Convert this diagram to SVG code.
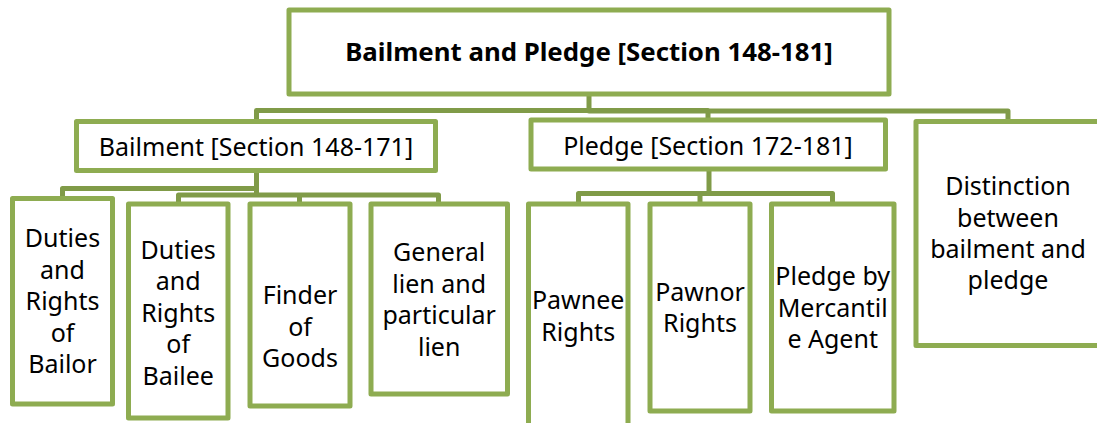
<svg xmlns="http://www.w3.org/2000/svg" width="1097" height="423" viewBox="0 0 1097 423">
<style>
.box{fill:#fff;stroke:#8eac51;stroke-width:5;stroke-linejoin:round}
.conn{fill:none;stroke:#809b48;stroke-width:5;stroke-linejoin:round}
text{font-family:"Noto Sans","Open Sans","Liberation Sans",sans-serif;font-size:25px;fill:#000;text-anchor:middle}
.title{font-weight:bold;font-size:25.8px}
</style>
<rect width="1097" height="423" fill="#fff"/>
<g id="connectors">
<path class="conn" d="M589,94 V110.5 M256.5,121.5 V110.5 H708 V120 M589,110.5 V111 H1008 V121.5"/>
<path class="conn" d="M256.5,170.5 V195 M62.5,198.5 V188.5 H256.5 M178.5,204 V195 H438.5 V204 M299.5,195 V204"/>
<path class="conn" d="M709,169 V193.5 M578.5,204 V193.5 H832.5 V204 M700,193.5 V204"/>
</g>
<g id="root"><rect class="box" x="289" y="10" width="600" height="84"/><text class="title" x="589" y="61">Bailment and Pledge [Section 148-181]</text></g>
<g id="bailment"><rect class="box" x="76.5" y="121.5" width="359" height="49"/><text x="256" y="156">Bailment [Section 148-171]</text></g>
<g id="pledge"><rect class="box" x="531" y="120" width="354.5" height="49"/><text x="708" y="155">Pledge [Section 172-181]</text></g>
<g id="distinction"><rect class="box" x="916" y="121.5" width="184" height="224"/><text x="1008" y="195">Distinction</text><text x="1008" y="226.5">between</text><text x="1008" y="258">bailment and</text><text x="1008" y="289">pledge</text></g>
<g id="bailor"><rect class="box" x="12.5" y="198.5" width="100" height="205.5"/><text x="62.5" y="247">Duties</text><text x="62.5" y="278.5">and</text><text x="62.5" y="310">Rights</text><text x="62.5" y="341.5">of</text><text x="62.5" y="373">Bailor</text></g>
<g id="bailee"><rect class="box" x="128.5" y="204" width="99.5" height="214"/><text x="178.2" y="258.5">Duties</text><text x="178.2" y="290">and</text><text x="178.2" y="321.5">Rights</text><text x="178.2" y="353">of</text><text x="178.2" y="384.5">Bailee</text></g>
<g id="finder"><rect class="box" x="250" y="204" width="100" height="202"/><text x="300" y="304">Finder</text><text x="300" y="335.5">of</text><text x="300" y="367">Goods</text></g>
<g id="lien"><rect class="box" x="371" y="204" width="136.5" height="190"/><text x="439.2" y="261">General</text><text x="439.2" y="292.5">lien and</text><text x="439.2" y="324">particular</text><text x="439.2" y="355.5">lien</text></g>
<g id="pawnee"><rect class="box" x="528.5" y="204" width="99.5" height="240"/><text x="578.2" y="309">Pawnee</text><text x="578.2" y="340.5">Rights</text></g>
<g id="pawnor"><rect class="box" x="650" y="204" width="100" height="207"/><text x="700" y="300.5">Pawnor</text><text x="700" y="332">Rights</text></g>
<g id="mercantile"><rect class="box" x="771.5" y="204" width="122.5" height="207"/><text x="832.7" y="285">Pledge by</text><text x="832.7" y="316.5">Mercantil</text><text x="832.7" y="348">e Agent</text></g>
</svg>
